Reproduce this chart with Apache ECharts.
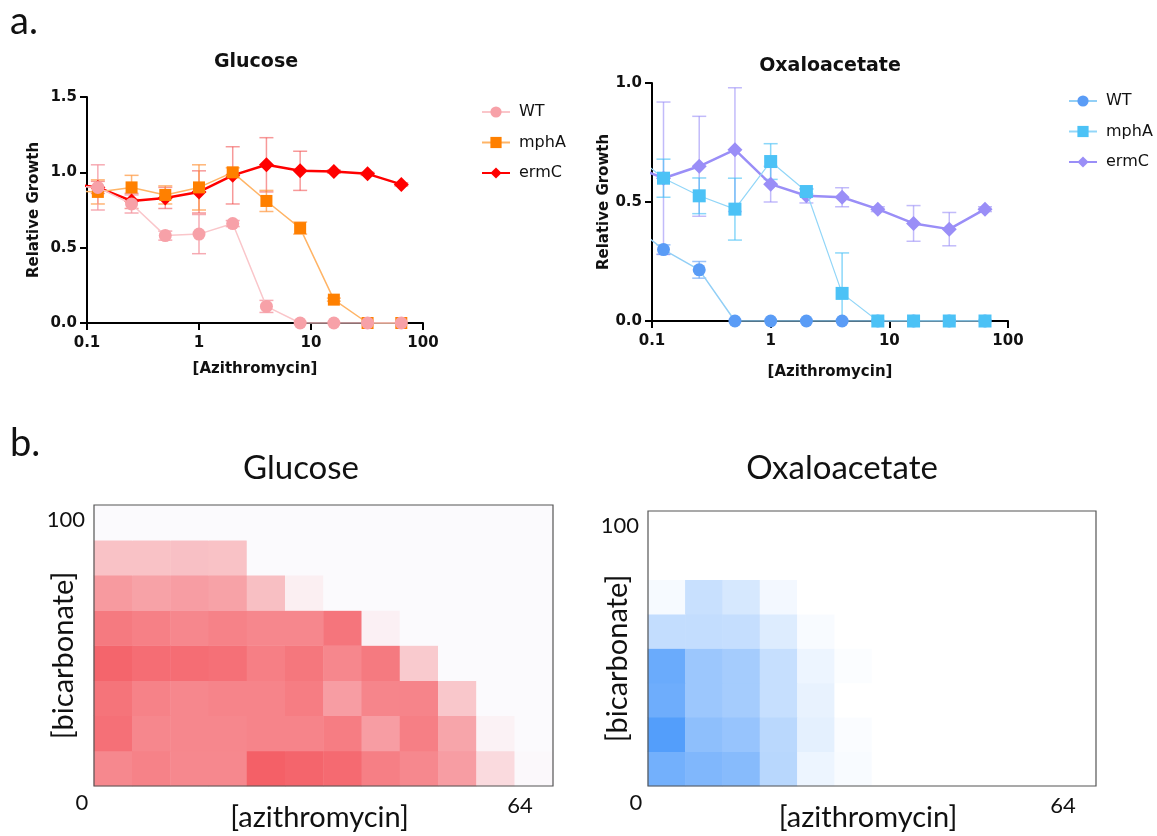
<!DOCTYPE html>
<html>
<head>
<meta charset="utf-8">
<script src="https://cdn.jsdelivr.net/npm/echarts/dist/echarts.min.js"></script>
<style>
  html, body { margin: 0; padding: 0; background: #fff; }
  #chart { width: 1157px; height: 836px; }
</style>
</head>
<body>
<div id="chart"></div>
<script>
// ---- data -------------------------------------------------------------
// azithromycin doses for the growth curves (first dose lies left of the axis and is clipped)
const azithro = [0.0625, 0.125, 0.25, 0.5, 1, 2, 4, 8, 16, 32, 64];
const strainNames = ['WT', 'mphA', 'ermC'];

// relative growth, glucose
const gluWT     = [0.91, 0.90, 0.79, 0.58, 0.59, 0.66, 0.11, 0, 0, 0, 0];
const gluMphA   = [0.88, 0.87, 0.90, 0.85, 0.90, 1.00, 0.81, 0.63, 0.155, 0, 0];
const gluErmC   = [0.93, 0.90, 0.81, 0.83, 0.87, 0.98, 1.05, 1.01, 1.005, 0.99, 0.92];
const gluWTsd   = [0, 0.15, 0.06, 0.03, 0.13, 0.02, 0.04, 0, 0, 0, 0];
const gluMphAsd = [0, 0.08, 0.08, 0.06, 0.15, 0.03, 0.07, 0.04, 0.01, 0, 0];
const gluErmCsd = [0, 0.04, 0.05, 0.07, 0.14, 0.19, 0.18, 0.13, 0.01, 0.01, 0.01];

// relative growth, oxaloacetate
const oxaWT     = [0.42, 0.30, 0.215, 0, 0, 0, 0, 0, 0, 0, 0];
const oxaMphA   = [0.72, 0.60, 0.526, 0.47, 0.67, 0.544, 0.116, 0, 0, 0, 0];
const oxaErmC   = [0.66, 0.60, 0.65, 0.72, 0.575, 0.526, 0.52, 0.47, 0.41, 0.386, 0.47];
const oxaWTsd   = [0, 0.02, 0.035, 0, 0, 0, 0, 0, 0, 0, 0];
const oxaMphAsd = [0, 0.08, 0.075, 0.13, 0.075, 0.01, 0.17, 0, 0, 0, 0];
const oxaErmCsd = [0, 0.32, 0.21, 0.26, 0.075, 0.03, 0.04, 0.01, 0.075, 0.07, 0.01];

// checkerboard: azithromycin columns x bicarbonate rows (rows listed bottom to top)
const azithroLevels = ['0', '0.0625', '0.125', '0.25', '0.5', '1', '2', '4', '8', '16', '32', '64'];
const bicarbLevels  = ['0', '1.56', '3.13', '6.25', '12.5', '25', '50', '100'];
const glucoseHeat = [
  [0.71, 0.75, 0.71, 0.71, 0.96, 0.93, 0.90, 0.77, 0.71, 0.58, 0.20, 0.01],
  [0.86, 0.72, 0.72, 0.72, 0.74, 0.74, 0.78, 0.58, 0.77, 0.53, 0.05, 0],
  [0.84, 0.75, 0.72, 0.74, 0.74, 0.78, 0.58, 0.73, 0.74, 0.32, 0, 0],
  [0.93, 0.88, 0.88, 0.86, 0.77, 0.82, 0.72, 0.80, 0.30, 0, 0, 0],
  [0.80, 0.76, 0.72, 0.75, 0.72, 0.72, 0.83, 0.06, 0, 0, 0, 0],
  [0.60, 0.55, 0.58, 0.55, 0.37, 0.07, 0, 0, 0, 0, 0, 0],
  [0.35, 0.35, 0.36, 0.35, 0, 0, 0, 0, 0, 0, 0, 0],
  [0, 0, 0, 0, 0, 0, 0, 0, 0, 0, 0, 0]
];
const oxaloHeat = [
  [0.79, 0.72, 0.68, 0.40, 0.10, 0.04, 0, 0, 0, 0, 0, 0],
  [0.97, 0.64, 0.59, 0.39, 0.15, 0.03, 0, 0, 0, 0, 0, 0],
  [0.82, 0.56, 0.51, 0.32, 0.13, 0, 0, 0, 0, 0, 0, 0],
  [0.84, 0.56, 0.51, 0.32, 0.10, 0.02, 0, 0, 0, 0, 0, 0],
  [0.34, 0.34, 0.33, 0.19, 0.04, 0, 0, 0, 0, 0, 0, 0],
  [0.05, 0.31, 0.23, 0.07, 0, 0, 0, 0, 0, 0, 0, 0],
  [0, 0, 0, 0, 0, 0, 0, 0, 0, 0, 0, 0],
  [0, 0, 0, 0, 0, 0, 0, 0, 0, 0, 0, 0]
];
const heatTickLabels = { low: '0', high: '64', top: '100' };

// ---- layout & style ---------------------------------------------------
const GRID_GLU  = { left: 87,  top: 97,  width: 336, height: 226 };
const GRID_OXA  = { left: 652, top: 83,  width: 356, height: 238 };
const HEAT_GLU  = { left: 94,  top: 505, width: 459, height: 281 };
const HEAT_OXA  = { left: 648, top: 511, width: 448, height: 275 };

const PLOT_FONT = 'DejaVu Sans';
const PANEL_FONT = 'Lato';

const pts = ys => azithro.map((x, i) => [x, ys[i]]);
const errPts = (ys, sds) => azithro.map((x, i) => [x, ys[i], sds[i]]);

function errRender(color) {
  return function (params, api) {
    const x = api.value(0), y = api.value(1), sd = api.value(2);
    if (!sd) return null;
    const a = api.coord([x, y + sd]);
    const b = api.coord([x, y - sd]);
    const w = 7;
    const st = { stroke: color, lineWidth: 1.5 };
    return {
      type: 'group',
      children: [
        { type: 'line', shape: { x1: a[0], y1: a[1], x2: b[0], y2: b[1] }, style: st },
        { type: 'line', shape: { x1: a[0] - w, y1: a[1], x2: a[0] + w, y2: a[1] }, style: st },
        { type: 'line', shape: { x1: b[0] - w, y1: b[1], x2: b[0] + w, y2: b[1] }, style: st }
      ]
    };
  };
}

function errSeries(idx, ys, sds, color, z) {
  return {
    type: 'custom', xAxisIndex: idx, yAxisIndex: idx, clip: true, silent: true, z,
    data: errPts(ys, sds), renderItem: errRender(color), encode: { x: 0, y: 1 }
  };
}

function lineSeries(idx, name, ys, marker, line, symbol, size, width, z) {
  return {
    type: 'line', name, xAxisIndex: idx, yAxisIndex: idx, data: pts(ys),
    symbol, symbolSize: size, showAllSymbol: true, clip: true, z,
    itemStyle: { color: marker, opacity: 1 },
    lineStyle: { color: line, width },
    emphasis: { disabled: true }
  };
}

const oxaName = n => n + ' \u00b7 OAA';

const series = [
  // glucose growth curves (WT drawn on top)
  errSeries(0, gluErmC, gluErmCsd, 'rgba(240,70,70,0.55)', 2),
  errSeries(0, gluMphA, gluMphAsd, 'rgba(255,150,60,0.7)', 2),
  errSeries(0, gluWT, gluWTsd, 'rgba(244,150,160,0.8)', 2),
  lineSeries(0, 'ermC', gluErmC, '#FF0000', '#FF0000', 'diamond', 15, 2.5, 3),
  lineSeries(0, 'mphA', gluMphA, '#FF8000', '#FFB466', 'rect', 12, 1.5, 4),
  lineSeries(0, 'WT', gluWT, '#F7A1A8', '#FAC6CA', 'circle', 13, 1.5, 5),
  // oxaloacetate growth curves (mphA drawn on top)
  errSeries(1, oxaWT, oxaWTsd, 'rgba(90,156,246,0.6)', 2),
  errSeries(1, oxaErmC, oxaErmCsd, 'rgba(154,142,247,0.6)', 2),
  errSeries(1, oxaMphA, oxaMphAsd, 'rgba(76,194,246,0.65)', 2),
  lineSeries(1, oxaName('WT'), oxaWT, '#5A9CF6', '#92CFF6', 'circle', 13, 1.5, 3),
  lineSeries(1, oxaName('ermC'), oxaErmC, '#9A8EF7', '#9A8EF7', 'diamond', 15, 2.5, 4),
  lineSeries(1, oxaName('mphA'), oxaMphA, '#4CC2F6', '#92D6F8', 'rect', 13, 1.2, 5)
];

const toCells = m => {
  const out = [];
  m.forEach((row, r) => row.forEach((v, c) => out.push([c, r, v])));
  return out;
};
const heatGluIndex = series.length;
series.push({
  type: 'heatmap', xAxisIndex: 2, yAxisIndex: 2, data: toCells(glucoseHeat),
  emphasis: { disabled: true }, itemStyle: { borderWidth: 0 }
});
const heatOxaIndex = series.length;
series.push({
  type: 'heatmap', xAxisIndex: 3, yAxisIndex: 3, data: toCells(oxaloHeat),
  emphasis: { disabled: true }, itemStyle: { borderWidth: 0 }
});

// ---- axes ---------------------------------------------------------------
const axisTxt = { fontFamily: PLOT_FONT, fontWeight: 'bold', fontSize: 15, color: '#111' };
const nameTxt = { fontFamily: PLOT_FONT, fontWeight: 'bold', fontSize: 15, color: '#111' };
const blackLine = { color: '#000', width: 2 };

function logX(idx, gap) {
  return {
    type: 'log', logBase: 10, gridIndex: idx, min: 0.1, max: 100,
    axisLine: { show: true, lineStyle: blackLine },
    axisTick: { show: true, length: 7, lineStyle: blackLine },
    axisLabel: { margin: 13, ...axisTxt, formatter: v => String(+(+v).toPrecision(3)) },
    splitLine: { show: false }, minorTick: { show: false },
    name: '[Azithromycin]', nameLocation: 'middle', nameGap: gap, nameTextStyle: nameTxt
  };
}
function growthY(idx, max, gap) {
  return {
    type: 'value', gridIndex: idx, min: 0, max, interval: 0.5,
    axisLine: { show: true, lineStyle: blackLine },
    axisTick: { show: true, length: 7, lineStyle: blackLine },
    axisLabel: { margin: 10, ...axisTxt, formatter: v => v.toFixed(1) },
    splitLine: { show: false },
    name: 'Relative Growth', nameLocation: 'middle', nameGap: gap, nameTextStyle: nameTxt
  };
}
const hiddenCat = (idx, data) => ({ type: 'category', gridIndex: idx, data, show: false });

// ---- text & frames --------------------------------------------------------
function txt(x, y, text, font, opts) {
  return Object.assign({
    type: 'text', x, y, z: 50, silent: true,
    style: Object.assign({ text, font, fill: '#111', align: 'center', verticalAlign: 'middle' }, opts && opts.style || {})
  }, opts && opts.el || {});
}
function frame(g) {
  return {
    type: 'rect', z: 60, silent: true,
    shape: { x: g.left, y: g.top, width: g.width, height: g.height },
    style: { fill: 'none', stroke: '#555', lineWidth: 1.2 }
  };
}
function heatLabels(g) {
  return [
    txt(g.left - 9, g.top + 15, heatTickLabels.top, `22px ${PANEL_FONT}`, { style: { align: 'right' } }),
    txt(g.left - 12, g.top + g.height + 17, heatTickLabels.low, `22px ${PANEL_FONT}`),
    txt(g.left + g.width - 33, g.top + g.height + 20, heatTickLabels.high, `22px ${PANEL_FONT}`),
    txt(g.left + g.width / 2 - 4, g.top + g.height + 32, '[azithromycin]', `29px ${PANEL_FONT}`),
    txt(g.left - 30, g.top + g.height / 2 + 10, '[bicarbonate]', `29px ${PANEL_FONT}`, { el: { rotation: Math.PI / 2 } })
  ];
}

const graphic = [
  txt(10, 22, 'a.', `38px ${PANEL_FONT}`, { style: { align: 'left' } }),
  txt(10, 444, 'b.', `38px ${PANEL_FONT}`, { style: { align: 'left' } }),
  txt(256, 62, 'Glucose', `bold 19px ${PLOT_FONT}`),
  txt(830, 66, 'Oxaloacetate', `bold 19px ${PLOT_FONT}`),
  txt(301, 468, 'Glucose', `33px ${PANEL_FONT}`),
  txt(842, 468, 'Oxaloacetate', `33px ${PANEL_FONT}`),
  ...heatLabels(HEAT_GLU),
  ...heatLabels(HEAT_OXA),
  frame(HEAT_GLU),
  frame(HEAT_OXA)
];

const legendBase = {
  orient: 'vertical', itemWidth: 28, itemHeight: 14, itemGap: 14.5, selectedMode: false,
  textStyle: { fontFamily: PLOT_FONT, fontSize: 16, color: '#111', padding: [0, 0, 0, 4] }
};

const option = {
  animation: false,
  backgroundColor: '#ffffff',
  grid: [GRID_GLU, GRID_OXA, HEAT_GLU, HEAT_OXA].map(g => ({ ...g, containLabel: false })),
  xAxis: [logX(0, 39), logX(1, 44), hiddenCat(2, azithroLevels), hiddenCat(3, azithroLevels)],
  yAxis: [growthY(0, 1.5, 45), growthY(1, 1.0, 39), hiddenCat(2, bicarbLevels), hiddenCat(3, bicarbLevels)],
  legend: [
    { ...legendBase, left: 476, top: 99, data: strainNames },
    { ...legendBase, left: 1063, top: 88, data: strainNames.map(oxaName), formatter: n => n.split(' ')[0] }
  ],
  visualMap: [
    { type: 'continuous', show: false, seriesIndex: heatGluIndex, min: 0, max: 1,
      inRange: { color: ['#FBFAFD', '#F45A61'] } },
    { type: 'continuous', show: false, seriesIndex: heatOxaIndex, min: 0, max: 1,
      inRange: { color: ['#FFFFFF', '#4E9BFB'] } }
  ],
  graphic,
  series
};

const chart = echarts.init(document.getElementById('chart'), null, { renderer: 'canvas' });
chart.setOption(option);
</script>
</body>
</html>
